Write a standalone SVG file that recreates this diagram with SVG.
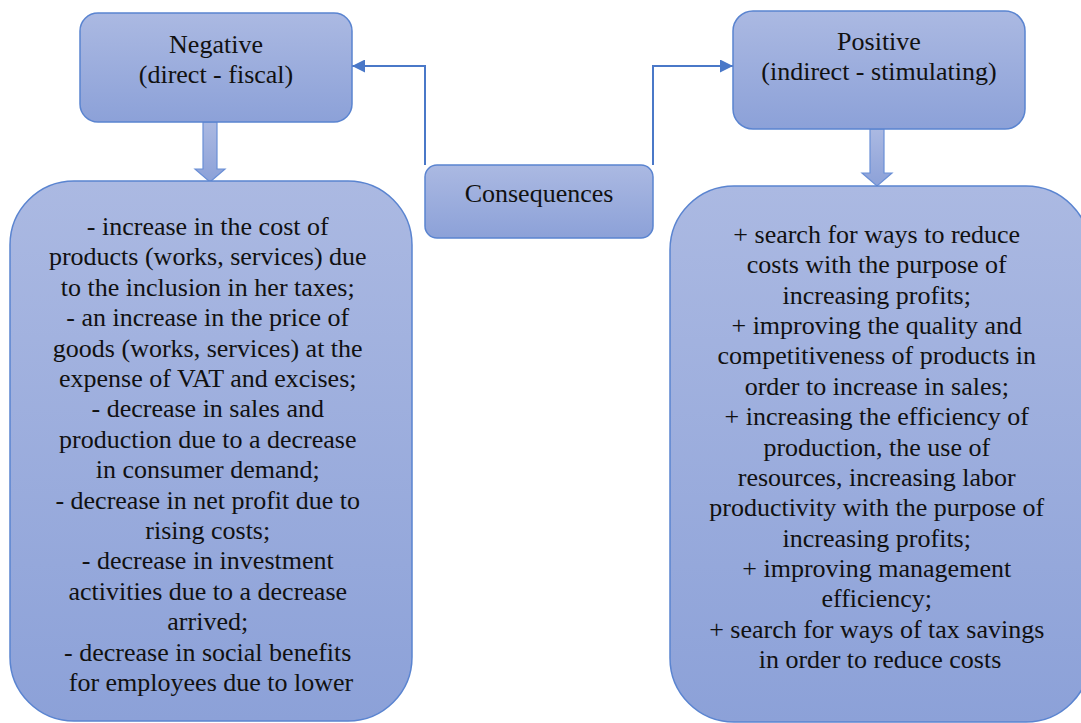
<svg xmlns="http://www.w3.org/2000/svg" width="1081" height="723" viewBox="0 0 1081 723">
<defs>
<linearGradient id="g" x1="0" y1="0" x2="0" y2="1">
<stop offset="0" stop-color="#abb9e2"/>
<stop offset="1" stop-color="#8ca1d8"/>
</linearGradient>
<marker id="ah" viewBox="0 0 10 10" refX="10" refY="5" markerWidth="13" markerHeight="13" markerUnits="userSpaceOnUse" orient="auto">
<path d="M0,0 L10,5 L0,10 z" fill="#4a78c8"/>
</marker>
<style>
.box{fill:url(#g);stroke:#5a84d0;stroke-width:1.5}
.blk{fill:url(#g);stroke:#6a8fd6;stroke-width:1.2}
.t{font-size:26px;fill:#111;text-anchor:middle}
.c{fill:none;stroke:#4a78c8;stroke-width:2}
</style>
</defs>
<rect width="1081" height="723" fill="#fff"/>
<g id="connectors">
<path class="c" d="M425,165 V66 H352" marker-end="url(#ah)"/>
<path class="c" d="M653,165 V66 H733" marker-end="url(#ah)"/>
<path class="blk" d="M203,122 H217 V169 H225 L210,182 L195,169 H203 Z"/>
<path class="blk" d="M870,129 H884 V173 H892 L877,186 L862,173 H870 Z"/>
</g>
<g font-family="'Liberation Serif', 'DejaVu Serif', serif">
<g id="negative">
<rect class="box" x="80" y="13" width="272" height="109" rx="18"/>
<text class="t" x="216" y="53">Negative</text>
<text class="t" x="216" y="83">(direct - fiscal)</text>
</g>
<g id="positive">
<rect class="box" x="733" y="11" width="292" height="118" rx="20"/>
<text class="t" x="879" y="50">Positive</text>
<text class="t" x="879" y="80">(indirect - stimulating)</text>
</g>
<g id="consequences">
<rect class="box" x="425" y="165" width="228" height="73" rx="12"/>
<text class="t" x="539" y="202">Consequences</text>
</g>
<g id="negative-list">
<rect class="box" x="10" y="181" width="402" height="540" rx="64"/>
<text class="t">
<tspan x="211" y="235">- increase in the cost of</tspan>
<tspan x="211" dy="30.4">products (works, services) due</tspan>
<tspan x="211" dy="30.4">to the inclusion in her taxes;</tspan>
<tspan x="211" dy="30.4">- an increase in the price of</tspan>
<tspan x="211" dy="30.4">goods (works, services) at the</tspan>
<tspan x="211" dy="30.4">expense of VAT and excises;</tspan>
<tspan x="211" dy="30.4">- decrease in sales and</tspan>
<tspan x="211" dy="30.4">production due to a decrease</tspan>
<tspan x="211" dy="30.4">in consumer demand;</tspan>
<tspan x="211" dy="30.4">- decrease in net profit due to</tspan>
<tspan x="211" dy="30.4">rising costs;</tspan>
<tspan x="211" dy="30.4">- decrease in investment</tspan>
<tspan x="211" dy="30.4">activities due to a decrease</tspan>
<tspan x="211" dy="30.4">arrived;</tspan>
<tspan x="211" dy="30.4">- decrease in social benefits</tspan>
<tspan x="211" dy="30.4">for employees due to lower</tspan>
</text>
</g>
<g id="positive-list">
<rect class="box" x="670" y="186" width="420" height="536" rx="64"/>
<text class="t">
<tspan x="880" y="243">+ search for ways to reduce</tspan>
<tspan x="880" dy="30.36">costs with the purpose of</tspan>
<tspan x="880" dy="30.36">increasing profits;</tspan>
<tspan x="880" dy="30.36">+ improving the quality and</tspan>
<tspan x="880" dy="30.36">competitiveness of products in</tspan>
<tspan x="880" dy="30.36">order to increase in sales;</tspan>
<tspan x="880" dy="30.36">+ increasing the efficiency of</tspan>
<tspan x="880" dy="30.36">production, the use of</tspan>
<tspan x="880" dy="30.36">resources, increasing labor</tspan>
<tspan x="880" dy="30.36">productivity with the purpose of</tspan>
<tspan x="880" dy="30.36">increasing profits;</tspan>
<tspan x="880" dy="30.36">+ improving management</tspan>
<tspan x="880" dy="30.36">efficiency;</tspan>
<tspan x="880" dy="30.36">+ search for ways of tax savings</tspan>
<tspan x="880" dy="30.36">in order to reduce costs</tspan>
</text>
</g>
</g>
</svg>
